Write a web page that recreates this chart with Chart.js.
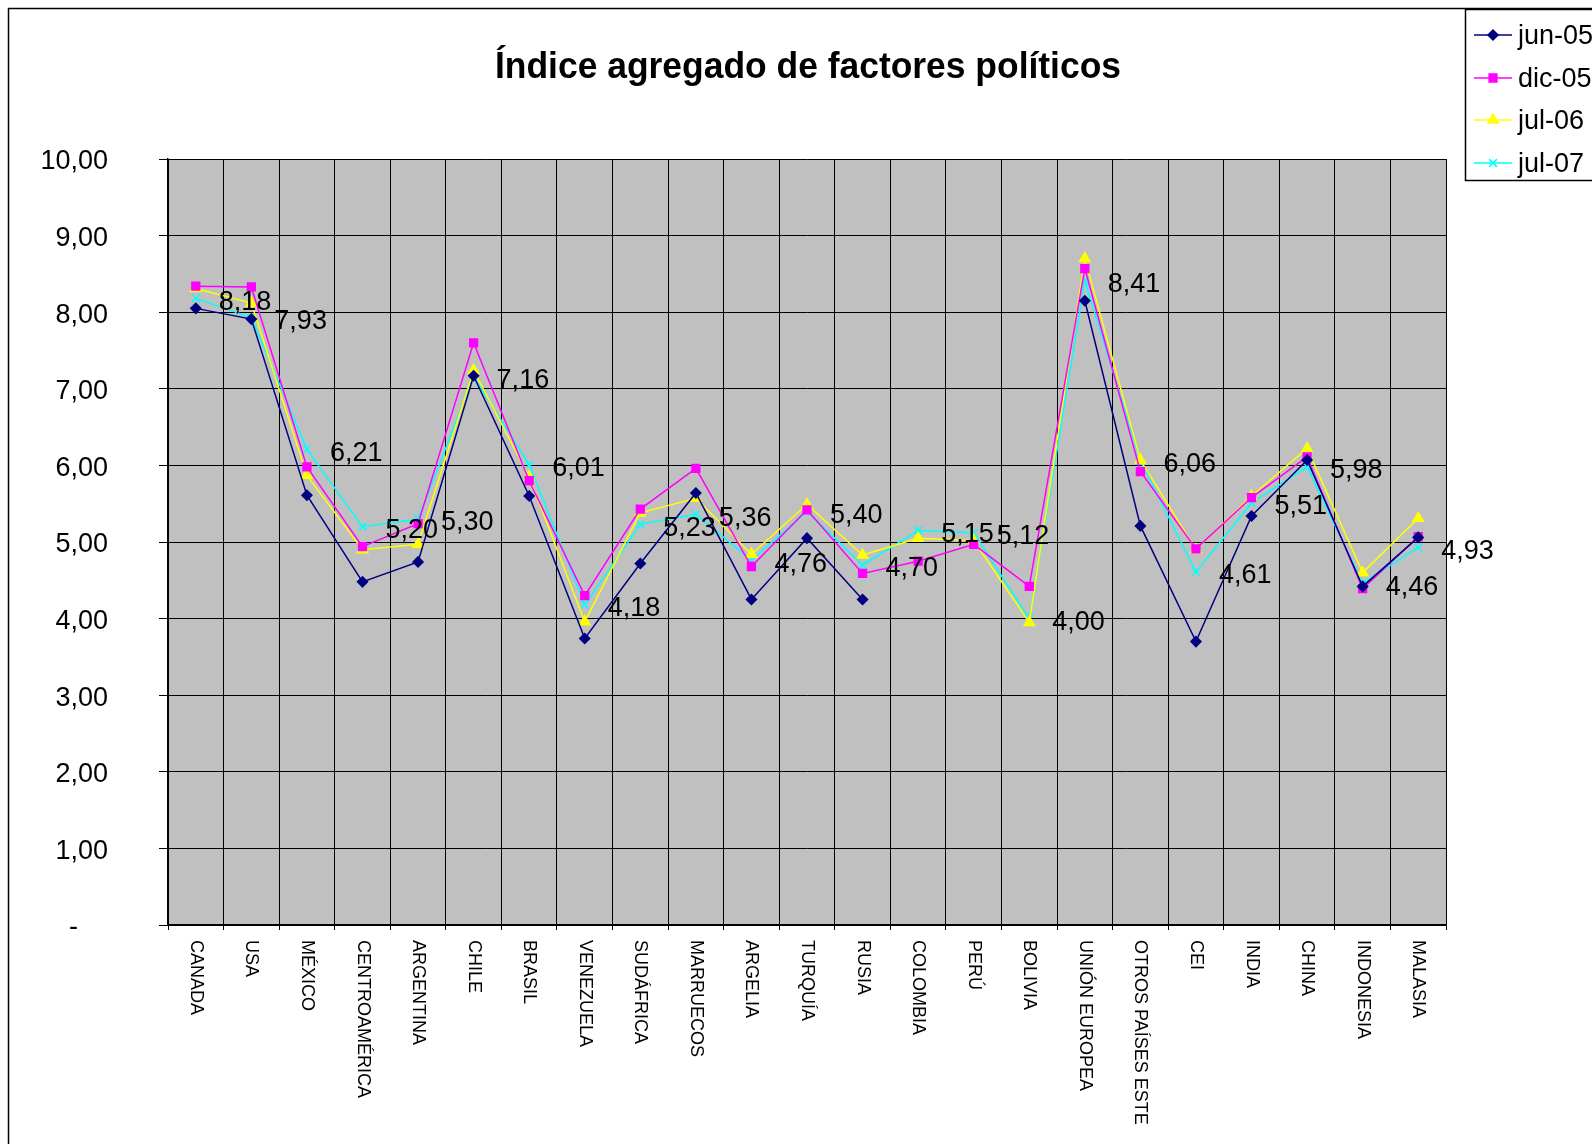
<!DOCTYPE html>
<html>
<head>
<meta charset="utf-8">
<script src="https://cdn.jsdelivr.net/npm/chart.js@4"></script>
<style>
  body { margin: 0; background: #fff; }
  #wrap { width: 1592px; height: 1144px; }
</style>
</head>
<body>
<div id="wrap"><canvas id="myChart"></canvas></div>
<script>
var categories = ["CANADA", "USA", "MÉXICO", "CENTROAMÉRICA", "ARGENTINA", "CHILE", "BRASIL", "VENEZUELA", "SUDÁFRICA", "MARRUECOS", "ARGELIA", "TURQUÍA", "RUSIA", "COLOMBIA", "PERÚ", "BOLIVIA", "UNIÓN EUROPEA", "OTROS PAÍSES ESTE", "CEI", "INDIA", "CHINA", "INDONESIA", "MALASIA"];
var jun05 = [8.05, 7.91, 5.61, 4.48, 4.74, 7.17, 5.60, 3.74, 4.72, 5.64, 4.25, 5.05, 4.25, null, null, null, 8.15, 5.21, 3.70, 5.34, 6.07, 4.42, 5.06];
var dic05 = [8.34, 8.33, 5.98, 4.94, 5.24, 7.60, 5.80, 4.30, 5.43, 5.96, 4.68, 5.42, 4.59, 4.75, 4.97, 4.42, 8.57, 5.92, 4.91, 5.58, 6.11, 4.39, 5.07];
var jul06 = [8.31, 8.12, 5.87, 4.90, 4.97, 7.24, 5.85, 3.96, 5.38, 5.57, 4.84, 5.49, 4.83, 5.05, 5.02, 3.95, 8.70, 6.07, 4.90, 5.60, 6.22, 4.60, 5.31];
var jul07 = [8.18, 7.93, 6.21, 5.20, 5.30, 7.16, 6.01, 4.18, 5.23, 5.36, 4.76, 5.40, 4.70, 5.15, 5.12, 4.00, 8.41, 6.06, 4.61, 5.51, 5.98, 4.46, 4.93];
var seriesNames = ["jun-05", "dic-05", "jul-06", "jul-07"];

var FONT = "'Liberation Sans', Arial, sans-serif";

function fmt(v) {
    return v.toFixed(2).replace('.', ',');
}

var extras = {
    id: 'extras',
    beforeDraw: function (chart) {
        var c = chart.ctx, a = chart.chartArea;
        c.save();
        c.fillStyle = '#c0c0c0';
        c.fillRect(a.left, a.top, a.right - a.left, a.bottom - a.top);
        c.restore();
    },
    afterDraw: function (chart) {
        var c = chart.ctx;
        c.save();
        // frame
        c.strokeStyle = '#000';
        c.lineWidth = 1.5;
        c.strokeRect(8.5, 8.5, 1700, 1300);

        // title (a bit taller than plain Arial, like the original)
        var title = 'Índice agregado de factores políticos';
        c.fillStyle = '#000';
        c.font = 'bold 32px ' + FONT;
        c.textAlign = 'center';
        c.textBaseline = 'middle';
        var tw = c.measureText(title).width;
        c.save();
        c.translate(808, 68);
        c.scale(626 / tw, 1.15);
        c.fillText(title, 0, 0);
        c.restore();

        // x labels, rotated clockwise
        var xs = chart.scales.x;
        c.font = '18px ' + FONT;
        c.textAlign = 'left';
        c.textBaseline = 'middle';
        categories.forEach(function (lab, i) {
            c.save();
            c.translate(xs.getPixelForValue(i), 940);
            c.rotate(Math.PI / 2);
            c.fillText(lab, 0, 0);
            c.restore();
        });

        // data labels for jul-07
        var meta = chart.getDatasetMeta(3);
        c.font = '27px ' + FONT;
        c.textAlign = 'left';
        c.textBaseline = 'middle';
        meta.data.forEach(function (pt, i) {
            c.fillText(fmt(jul07[i]), pt.x + 23, pt.y + 4);
        });

        // legend
        c.fillStyle = '#fff';
        c.fillRect(1465, 9, 200, 171);
        c.strokeStyle = '#000';
        c.lineWidth = 1.5;
        c.strokeRect(1465.5, 9.5, 200, 171);
        var rows = [35, 78, 120, 163];
        chart.data.datasets.forEach(function (ds, i) {
            var y = rows[i];
            c.strokeStyle = ds.borderColor;
            c.fillStyle = ds.borderColor;
            c.lineWidth = 1.5;
            c.beginPath();
            c.moveTo(1474, y);
            c.lineTo(1512, y);
            c.stroke();
            Chart.helpers.drawPoint(c, {
                pointStyle: ds.pointStyle,
                radius: ds.pointRadius,
                borderWidth: ds.pointBorderWidth
            }, 1493, y);
            c.fillStyle = '#000';
            c.font = '27px ' + FONT;
            c.textAlign = 'left';
            c.textBaseline = 'middle';
            c.fillText(ds.label, 1518, y + 2);
        });
        c.restore();
    }
};

function series(i, data, color, style, r) {
    return {
        label: seriesNames[i],
        data: data,
        borderColor: color,
        backgroundColor: color,
        pointBackgroundColor: color,
        pointBorderColor: color,
        pointStyle: style,
        pointRadius: r,
        pointBorderWidth: 1.5,
        borderWidth: 1.5,
        spanGaps: false,
        tension: 0
    };
}

new Chart('myChart', {
    type: 'line',
    data: {
        labels: categories,
        datasets: [
            series(0, jun05, '#000080', 'rectRot', 5),
            series(1, dic05, '#ff00ff', 'rect', 5.5),
            series(2, jul06, '#ffff00', 'triangle', 6),
            series(3, jul07, '#00ffff', 'crossRot', 5.5)
        ]
    },
    options: {
        responsive: true,
        maintainAspectRatio: false,
        animation: false,
        layout: { padding: { top: 159, right: 146, left: 0, bottom: 0 } },
        plugins: {
            legend: { display: false },
            title: { display: false },
            tooltip: { enabled: false }
        },
        scales: {
            x: {
                offset: true,
                grid: { offset: true, color: '#000', lineWidth: 1, tickLength: 5 },
                border: { color: '#000', width: 1.5 },
                ticks: { display: false },
                afterFit: function (s) { s.height = 219; }
            },
            y: {
                min: 0,
                max: 10,
                ticks: {
                    stepSize: 1,
                    color: '#000',
                    padding: 51,
                    labelOffset: 3,
                    font: { family: FONT, size: 27 },
                    callback: function (v) { return v === 0 ? '-    ' : fmt(v); }
                },
                grid: { color: '#000', lineWidth: 1, tickLength: 9 },
                border: { color: '#000', width: 1.5 },
                afterFit: function (s) { s.width = 168; }
            }
        }
    },
    plugins: [extras]
});
</script>
</body>
</html>
